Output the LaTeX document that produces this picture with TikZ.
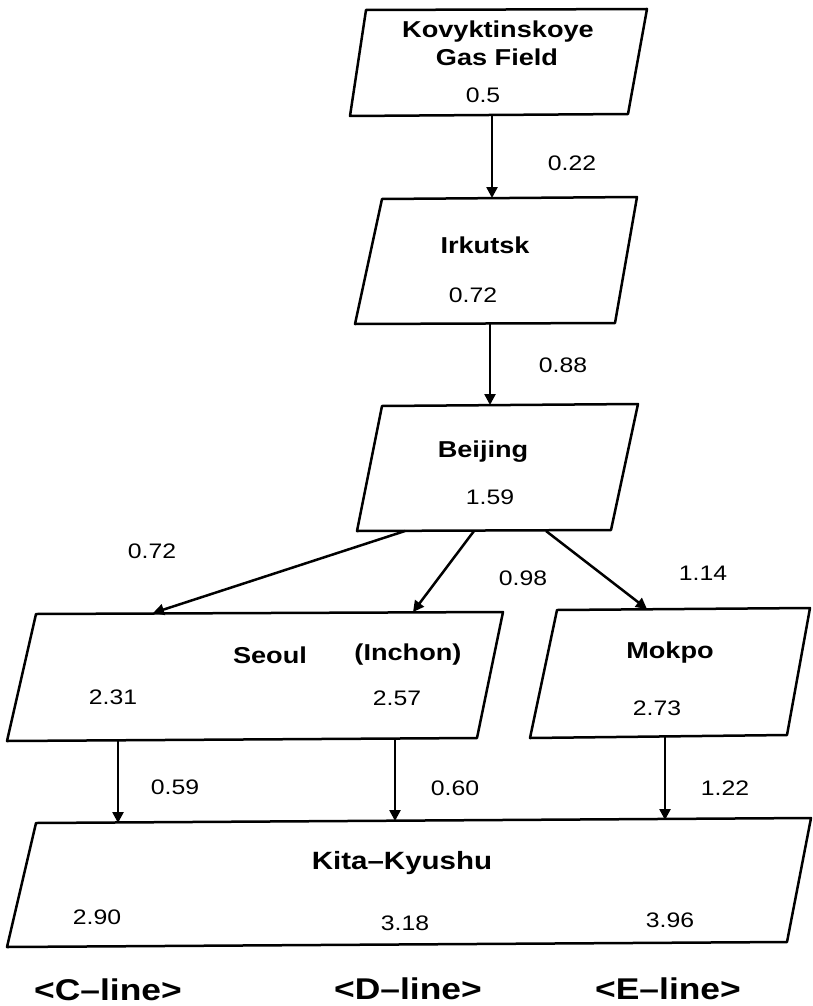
\documentclass[tikz,border=0pt]{standalone}
\usepackage{fontspec}
\setmainfont{Liberation Sans}[FakeStretch=1.18]
\usetikzlibrary{arrows.meta}
\begin{document}
\begin{tikzpicture}[x=1pt,y=-1pt,
  box/.style={line width=2.5pt, line join=round},
  conn/.style={line width=2.5pt,-{Triangle[length=11pt,width=11pt]}},
  cname/.style={font=\fontsize{23}{26}\selectfont\bfseries, inner sep=0pt},
  num/.style={font=\fontsize{21}{24}\selectfont, inner sep=0pt},
  tag/.style={font=\fontsize{30}{34}\selectfont\bfseries, inner sep=0pt}]
\useasboundingbox (0,0) rectangle (812,1006);
\fill[white] (0,0) rectangle (812,1006);

% boxes
\draw[box] (366,10) -- (647,9) -- (628,114) -- (350,116) -- cycle;
\draw[box] (382,199) -- (637,197) -- (615,323) -- (355,324) -- cycle;
\draw[box] (382,406) -- (638,404) -- (611,530) -- (357,531) -- cycle;
\draw[box] (36,614) -- (503,612) -- (477,738) -- (7,741) -- cycle;
\draw[box] (557,610) -- (810,608) -- (787,735) -- (530,738) -- cycle;
\draw[box] (36,823) -- (811,818) -- (787,942) -- (7,947) -- cycle;

% connector end points
\coordinate (kovB) at (492,115);
\coordinate (irkT) at (492,198);
\coordinate (irkB) at (490,323);
\coordinate (beiT) at (490,405);
\coordinate (beiB1) at (405,531);
\coordinate (beiB2) at (474,531);
\coordinate (beiB3) at (546,531);
\coordinate (seoT1) at (153,613);
\coordinate (seoT2) at (413,612);
\coordinate (mokT) at (647,609);
\coordinate (seoB1) at (118,740);
\coordinate (seoB2) at (395,739);
\coordinate (mokB) at (665,736);
\coordinate (kitT1) at (118,823);
\coordinate (kitT2) at (395,821);
\coordinate (kitT3) at (665,820);

\draw[conn] (kovB) -- (irkT);
\draw[conn] (irkB) -- (beiT);
\draw[conn] (beiB1) -- (seoT1);
\draw[conn] (beiB2) -- (seoT2);
\draw[conn] (beiB3) -- (mokT);
\draw[conn] (seoB1) -- (kitT1);
\draw[conn] (seoB2) -- (kitT2);
\draw[conn] (mokB) -- (kitT3);

% texts
\node[cname] (kov1) at (498,32) {Kovyktinskoye};
\node[cname] (kov2) at (497,57) {Gas Field};
\node[num] (kovv) at (483,95) {0.5};
\node[num] (f1) at (572,163) {0.22};
\node[cname] (irk) at (485,245) {Irkutsk};
\node[num] (irkv) at (473,295) {0.72};
\node[num] (f2) at (563,365) {0.88};
\node[cname] (bei) at (483,452) {Beijing};
\node[num] (beiv) at (490,497) {1.59};
\node[num] (f3) at (152,551) {0.72};
\node[num] (f4) at (523,578) {0.98};
\node[num] (f5) at (703,573) {1.14};
\node[cname] (seo) at (270,655) {Seoul};
\node[cname] (inc) at (408,655) {(Inchon)};
\node[num] (seov1) at (113,697) {2.31};
\node[num] (seov2) at (397,698) {2.57};
\node[cname] (mok) at (670,653) {Mokpo};
\node[num] (mokv) at (657,708) {2.73};
\node[num] (f6) at (175,787) {0.59};
\node[num] (f7) at (455,788) {0.60};
\node[num] (f8) at (725,788) {1.22};
\node[cname, font=\fontsize{25}{28}\selectfont\bfseries] (kit) at (402,863) {Kita\textendash Kyushu};
\node[num] (kitv1) at (97,917) {2.90};
\node[num] (kitv2) at (405,923) {3.18};
\node[num] (kitv3) at (670,920) {3.96};
\node[tag] (lc) at (108,990) {<C\textendash line>};
\node[tag] (ld) at (408,989) {<D\textendash line>};
\node[tag] (le) at (668,989) {<E\textendash line>};
\end{tikzpicture}
\end{document}
